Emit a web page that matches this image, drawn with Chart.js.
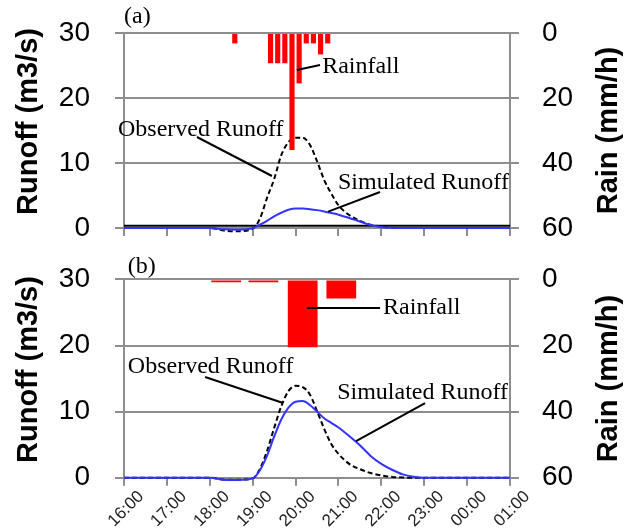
<!DOCTYPE html>
<html>
<head>
<meta charset="utf-8">
<script src="https://cdn.jsdelivr.net/npm/chart.js@4.4.1/dist/chart.umd.min.js"></script>
<style>
  body { margin: 0; background: #fff; }
  #wrap { position: relative; width: 633px; height: 528px; }
  canvas { position: absolute; left: 0; }
  #chartA { top: 0; }
  #chartB { top: 250px; }
</style>
</head>
<body>
<div id="wrap">
  <canvas id="chartA" width="633" height="250"></canvas>
  <canvas id="chartB" width="633" height="278"></canvas>
</div>
<script>
// x axis labels, one per hour from 16:00 to 01:00
const hourLabels = ['16:00', '17:00', '18:00', '19:00', '20:00', '21:00', '22:00', '23:00', '00:00', '01:00'];
const runoffTicks = [0, 10, 20, 30];
const rainTicks = [0, 20, 40, 60];

// runoff hydrographs (m3/s)
const runoffTimes = ['16:00', '17:00', '18:00', '18:20', '18:40', '19:00', '19:10', '19:20', '19:30', '19:40', '19:50',
                     '20:00', '20:10', '20:20', '20:30', '20:40', '20:50', '21:00', '21:15', '21:30', '21:45',
                     '22:00', '22:15', '22:30', '22:45', '23:00', '00:00', '01:00'];
const observedA  = [0, 0, 0, -0.4, -0.5, -0.1, 1.4, 4.6, 7.5, 11.2, 13.2,
                    13.9, 13.9, 12.8, 10.3, 7.4, 5.3, 3.5, 2.0, 1.1, 0.5,
                    0.2, 0.05, 0, 0, 0, 0, 0];
const simulatedA = [0, 0, 0, -0.2, -0.25, -0.05, 0.5, 1.1, 1.8, 2.35, 2.8,
                    3.0, 3.0, 2.9, 2.75, 2.55, 2.3, 2.05, 1.55, 1.0, 0.45,
                    0.12, 0.03, 0, 0, 0, 0, 0];
const observedB  = [0, 0, 0, -0.3, -0.3, -0.1, 1.3, 4.0, 7.5, 10.8, 13.1,
                    13.9, 13.7, 12.6, 10.1, 7.4, 5.1, 3.6, 2.1, 1.3, 0.7,
                    0.35, 0.12, 0.03, 0, 0, 0, 0];
const simulatedB = [0, 0, 0, -0.3, -0.35, -0.1, 1.1, 3.3, 6.2, 8.8, 10.6,
                    11.5, 11.6, 11.0, 10.0, 9.0, 8.3, 7.6, 6.3, 4.9, 3.3,
                    2.1, 1.2, 0.5, 0.15, 0, 0, 0];

// flat line in panel (a)
const baseTimes = ['16:00', '01:00'];
const baseflowA = [0.35, 0.35];

// rainfall (mm/h), bar centres
const rainTimesA = ['18:35', '19:25', '19:35', '19:45', '19:55', '20:05', '20:15', '20:25', '20:35', '20:45'];
const rainA = [3.2, 9.3, 9.3, 9.3, 36, 15.5, 3.2, 3.2, 6.6, 3.2];
const rainTimesB = ['18:23', '19:15', '20:10', '21:04'];
const rainB = [0.9, 0.9, 20.5, 5.8];

// "HH:MM" -> hours, times after midnight go past 24
function toHours(t) {
    const [h, m] = t.split(':').map(Number);
    return (h < 12 ? h + 24 : h) + m / 60;
}
function pairs(times, values) {
    return times.map((t, i) => ({ x: toHours(t), y: values[i] }));
}

const GRID = '#8e8e8e';
Chart.defaults.font.family = "'Liberation Sans', Arial, sans-serif";
Chart.defaults.color = '#000';

// texts, leader lines and the two axis titles
const notesPlugin = {
    id: 'notes',
    afterDraw(chart, args, opts) {
        const ctx = chart.ctx, sx = chart.scales.x, sy = chart.scales.y, area = chart.chartArea;
        const px = h => sx.getPixelForValue(h), py = v => sy.getPixelForValue(v);
        ctx.save();
        ctx.strokeStyle = '#000';
        ctx.lineWidth = 2;
        opts.lines.forEach(l => {
            ctx.beginPath();
            ctx.moveTo(px(l[0]), py(l[1]));
            ctx.lineTo(px(l[2]), py(l[3]));
            ctx.stroke();
        });
        ctx.fillStyle = '#000';
        ctx.font = "24px 'Liberation Serif', 'Times New Roman', serif";
        ctx.textAlign = 'left';
        ctx.textBaseline = 'middle';
        opts.texts.forEach(t => ctx.fillText(t[0], px(t[1]), py(t[2])));

        // axis titles
        const midY = (area.top + area.bottom) / 2;
        ctx.font = "bold 29px 'Liberation Sans', Arial, sans-serif";
        ctx.textAlign = 'center';
        ctx.save();
        ctx.translate(28.5, midY - 9);
        ctx.rotate(-Math.PI / 2);
        ctx.fillText('Runoff (m3/s)', 0, 0);
        ctx.restore();
        ctx.save();
        ctx.translate(609, midY);
        ctx.rotate(-Math.PI / 2);
        ctx.fillText('Rain (mm/h)', 0, 0);
        ctx.restore();
        ctx.restore();
    }
};

// fixed axis box sizes, and no extra padding from the tick labels
function fixBox(w, h) {
    return s => {
        if (w !== null) s.width = w;
        if (h !== null) s.height = h;
        s.paddingTop = 0;
        s.paddingBottom = 0;
        s.paddingLeft = 0;
        s.paddingRight = 0;
    };
}

function makePanel(id, cfg) {
    const canvas = document.getElementById(id);
    return new Chart(canvas, {
        type: 'line',
        data: {
            datasets: [
                {
                    type: 'bar',
                    data: pairs(cfg.rainTimes, cfg.rain),
                    yAxisID: 'y2',
                    backgroundColor: '#ff0000',
                    barPercentage: cfg.barPct,
                    categoryPercentage: cfg.barPct,
                    order: 0
                },
                {
                    data: pairs(runoffTimes, cfg.simulated),
                    borderColor: '#3333ff',
                    borderWidth: 2,
                    pointRadius: 0,
                    cubicInterpolationMode: 'monotone',
                    clip: 8,
                    order: 1
                },
                {
                    data: pairs(runoffTimes, cfg.observed),
                    borderColor: '#000',
                    borderWidth: 2,
                    borderDash: [5, 3],
                    pointRadius: 0,
                    cubicInterpolationMode: 'monotone',
                    clip: 8,
                    order: 2
                }
            ].concat(cfg.base ? [{
                data: pairs(baseTimes, cfg.base),
                borderColor: '#000',
                borderWidth: 2,
                pointRadius: 0,
                order: 3
            }] : [])
        },
        options: {
            responsive: false,
            animation: false,
            layout: { padding: { top: cfg.top, left: 0, right: 0, bottom: 0 } },
            plugins: {
                legend: { display: false },
                tooltip: { enabled: false },
                notes: { texts: cfg.texts, lines: cfg.lines }
            },
            scales: {
                x: {
                    type: 'linear',
                    min: 16,
                    max: 25,
                    offset: false,
                    afterBuildTicks: s => { s.ticks = hourLabels.map((l, i) => ({ value: 16 + i })); },
                    afterFit: fixBox(null, cfg.xHeight),
                    grid: { offset: false, drawOnChartArea: false, color: GRID, lineWidth: 2, tickLength: 8 },
                    border: { color: GRID, width: 2 },
                    ticks: {
                        display: cfg.showX,
                        autoSkip: false,
                        minRotation: 45,
                        maxRotation: 45,
                        labelOffset: 17,
                        padding: 1,
                        color: '#222',
                        font: { size: 17 },
                        callback: v => hourLabels[v - 16]
                    }
                },
                y: {
                    position: 'left',
                    min: 0,
                    max: 30,
                    afterBuildTicks: s => { s.ticks = runoffTicks.map(v => ({ value: v })); },
                    afterFit: fixBox(124, null),
                    grid: { color: GRID, lineWidth: 2, tickLength: 9 },
                    border: { color: GRID, width: 2 },
                    ticks: { padding: 25, font: { size: 28 } }
                },
                y2: {
                    position: 'right',
                    reverse: true,
                    min: 0,
                    max: 60,
                    afterBuildTicks: s => { s.ticks = rainTicks.map(v => ({ value: v })); },
                    afterFit: fixBox(123, null),
                    grid: { drawOnChartArea: false, color: GRID, lineWidth: 2, tickLength: 9 },
                    border: { color: GRID, width: 2 },
                    ticks: { padding: 23, font: { size: 28 } }
                }
            }
        },
        plugins: [notesPlugin]
    });
}

// Panel (a)
makePanel('chartA', {
    rainTimes: rainTimesA, rain: rainA, barPct: 0.85,
    observed: observedA, simulated: simulatedA, base: baseflowA,
    top: 33, xHeight: 22, showX: false,
    texts: [['(a)', 16.0, 32.46], ['Rainfall', 20.62, 24.77],
            ['Observed Runoff', 15.86, 15.08], ['Simulated Runoff', 20.99, 6.92]],
    lines: [[20.03, 24.31, 20.57, 25.08], [17.70, 14.0, 19.45, 8.0], [21.97, 5.54, 20.76, 2.51]]
});

// Panel (b)
makePanel('chartB', {
    rainTimes: rainTimesB, rain: rainB, barPct: 0.895,
    observed: observedB, simulated: simulatedB, base: null,
    top: 29.4, xHeight: 50.3, showX: true,
    texts: [['(b)', 16.09, 31.88], ['Rainfall', 22.04, 25.67],
            ['Observed Runoff', 16.09, 16.75], ['Simulated Runoff', 20.97, 12.81]],
    lines: [[20.27, 25.67, 21.97, 25.67], [17.89, 15.23, 19.71, 11.3], [23.02, 11.3, 21.41, 5.55]]
});
</script>
</body>
</html>
